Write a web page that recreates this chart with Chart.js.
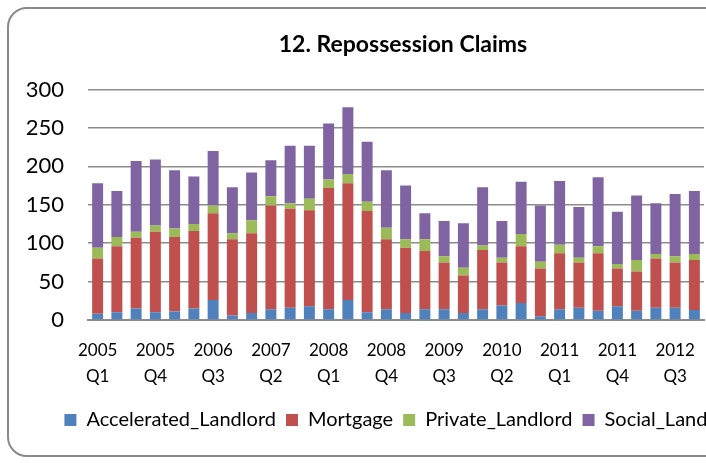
<!DOCTYPE html>
<html>
<head>
<meta charset="utf-8">
<script src="https://cdn.jsdelivr.net/npm/chart.js@4.4.0/dist/chart.umd.min.js"></script>
<style>
  html, body { margin: 0; padding: 0; width: 706px; height: 463px; overflow: hidden; background: #fff; }
  #frame { position: absolute; left: 7px; top: 7px; width: 840px; height: 450px; box-sizing: border-box;
           border: 2px solid #8a8a8a; border-radius: 20px; }
  #box { position: absolute; left: 0; top: 0; width: 806px; height: 463px; }
</style>
</head>
<body>
<div id="frame"></div>
<div id="box"><canvas id="claimsChart"></canvas></div>
<script>
// Quarterly repossession claims, 2005 Q1 - 2012 Q4
const quarters = [
    '2005 Q1', '2005 Q2', '2005 Q3', '2005 Q4',
    '2006 Q1', '2006 Q2', '2006 Q3', '2006 Q4',
    '2007 Q1', '2007 Q2', '2007 Q3', '2007 Q4',
    '2008 Q1', '2008 Q2', '2008 Q3', '2008 Q4',
    '2009 Q1', '2009 Q2', '2009 Q3', '2009 Q4',
    '2010 Q1', '2010 Q2', '2010 Q3', '2010 Q4',
    '2011 Q1', '2011 Q2', '2011 Q3', '2011 Q4',
    '2012 Q1', '2012 Q2', '2012 Q3', '2012 Q4'
];
const accelerated = [8, 10, 15, 10, 11, 15, 26, 6, 9, 14, 16, 18, 14, 26, 10, 14,
                     9, 14, 14, 9, 14, 19, 22, 5, 14, 16, 12, 18, 12, 16, 16, 13];
const mortgage = [72, 86, 92, 105, 97, 101, 113, 99, 104, 135, 129, 125, 158, 152, 132, 91,
                  85, 76, 61, 49, 77, 56, 74, 62, 73, 59, 75, 49, 51, 64, 59, 65];
const privateLandlord = [14, 12, 8, 8, 11, 9, 10, 8, 17, 12, 7, 15, 11, 12, 12, 15,
                         11, 15, 8, 10, 6, 6, 16, 9, 11, 6, 9, 6, 15, 6, 8, 8];
const socialLandlord = [84, 60, 92, 86, 76, 62, 71, 60, 62, 47, 75, 69, 73, 87, 78, 75,
                        70, 34, 46, 58, 76, 48, 68, 73, 83, 66, 90, 68, 84, 66, 81, 82];
const yTicks = [0, 50, 100, 150, 200, 250, 300];

const fontFamily = 'Lato';

function makeSet(label, data, color) {
    return {
        label: label,
        data: data,
        backgroundColor: color,
        borderWidth: 0,
        barPercentage: 0.57,
        categoryPercentage: 1.0
    };
}

const ctx = document.getElementById('claimsChart').getContext('2d');

const chart = new Chart(ctx, {
    type: 'bar',
    data: {
        labels: quarters,
        datasets: [
            makeSet('Accelerated_Landlord', accelerated, '#4F81BD'),
            makeSet('Mortgage', mortgage, '#C0504D'),
            makeSet('Private_Landlord', privateLandlord, '#9BBB59'),
            makeSet('Social_Landlord', socialLandlord, '#8064A2')
        ]
    },
    options: {
        responsive: true,
        maintainAspectRatio: false,
        animation: false,
        layout: { padding: { left: 0, right: 0, top: 0, bottom: 23 } },
        plugins: {
            title: {
                display: true,
                text: '12. Repossession Claims',
                color: '#000',
                font: { family: fontFamily, size: 23, weight: 'bold' },
                padding: { top: 31, bottom: 31 }
            },
            legend: {
                position: 'bottom',
                labels: {
                    color: '#000',
                    font: { family: fontFamily, size: 20 },
                    boxWidth: 12,
                    boxHeight: 12,
                    padding: 10
                }
            },
            tooltip: { enabled: false }
        },
        scales: {
            x: {
                stacked: true,
                grid: { display: false, drawTicks: false },
                border: { display: true, color: '#8c8c8c', width: 2 },
                ticks: {
                    autoSkip: false,
                    maxRotation: 0,
                    padding: 17,
                    color: '#000',
                    font: { family: fontFamily, size: 17, lineHeight: 1.55 },
                    callback: function (value, index) {
                        return index % 3 === 0 ? quarters[index].split(' ') : '';
                    }
                },
                afterFit: function (scale) { scale.height = 80; }
            },
            y: {
                stacked: true,
                min: 0,
                max: 300,
                afterBuildTicks: function (scale) {
                    scale.ticks = yTicks.map(function (v) { return { value: v }; });
                },
                grid: { color: '#8c8c8c', lineWidth: 1.5, drawTicks: false },
                border: { display: false },
                ticks: {
                    padding: 24,
                    color: '#000',
                    font: { family: fontFamily, size: 22 }
                },
                afterFit: function (scale) { scale.width = 88; }
            },
            spacer: {
                position: 'right',
                display: true,
                grid: { display: false, drawTicks: false },
                border: { display: false },
                ticks: { display: false },
                afterFit: function (scale) { scale.width = 102; }
            }
        }
    }
});
</script>
</body>
</html>
